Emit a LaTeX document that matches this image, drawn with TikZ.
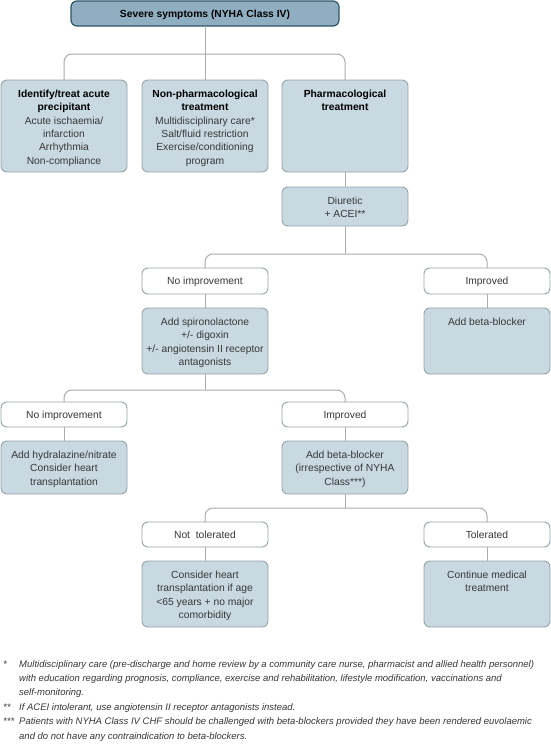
\documentclass[tikz,border=0pt]{standalone}
\usepackage{fontspec}
\setmainfont{Liberation Sans}
\usetikzlibrary{calc}
\definecolor{boxfill}{RGB}{200,217,225}
\definecolor{boxline}{RGB}{150,163,170}
\definecolor{topfill}{RGB}{143,175,192}
\definecolor{topline}{RGB}{45,85,102}
\definecolor{connline}{RGB}{172,172,172}
\definecolor{txt}{RGB}{55,55,55}
\newcommand{\bxt}[4][17.5pt]{\parbox[c][#3][t]{#2}{\centering\rule{0pt}{#1}#4}}
\tikzset{
  base/.style={inner sep=0pt, outer sep=0pt, anchor=north west, rounded corners=6pt, line width=0.9pt,
    font=\fontsize{10.3}{13.3}\selectfont, text=txt},
  fbox/.style={base, draw=boxline, fill=boxfill},
  lbox/.style={base, draw=boxline, fill=white},
  tbox/.style={base, draw=topline, fill=topfill, line width=1.2pt, text=black},
  conn/.style={draw=connline, line width=1pt, rounded corners=8pt},
  fnote/.style={inner sep=0pt, anchor=base west, text=txt, font=\fontsize{9.5}{14.4}\selectfont\itshape}
}
\begin{document}
\begin{tikzpicture}[x=1pt,y=-1pt]
\useasboundingbox (0,0) rectangle (551,750);
\fill[white] (0,0) rectangle (551,750);
% top
\node[tbox] (top) at (71,1) {\bxt[16.5pt]{268pt}{25pt}{\textbf{Severe symptoms (NYHA Class IV)}}};
% row 1
\node[fbox] (idt) at (1,80) {\bxt{126pt}{92pt}{\textcolor{black}{\textbf{Identify/treat acute\\precipitant}}\\Acute ischaemia/\\infarction\\Arrhythmia\\Non-compliance}};
\node[fbox] (npt) at (142,80) {\bxt{126pt}{92pt}{\textcolor{black}{\textbf{Non-pharmacological\\treatment}}\\Multidisciplinary care*\\Salt/fluid restriction\\Exercise/conditioning\\program}};
\node[fbox] (pht) at (282,80) {\bxt{126pt}{92pt}{\textcolor{black}{\textbf{Pharmacological\\treatment}}}};
% diuretic
\node[fbox] (diu) at (282,187) {\bxt{126pt}{39pt}{Diuretic\\+ ACEI**}};
% row labels 1
\node[lbox] (ni1) at (142,268) {\bxt[16.5pt]{126pt}{26pt}{No improvement}};
\node[lbox] (im1) at (424,268) {\bxt[16.5pt]{126pt}{26pt}{Improved}};
\node[fbox] (spi) at (142,308) {\bxt{126pt}{66pt}{Add spironolactone\\+/- digoxin\\+/- angiotensin II receptor\\antagonists}};
\node[fbox] (bb1) at (424,308) {\bxt{126pt}{66pt}{Add beta-blocker}};
% row labels 2
\node[lbox] (ni2) at (1,402) {\bxt[16pt]{126pt}{25pt}{No improvement}};
\node[lbox] (im2) at (282,402) {\bxt[16pt]{126pt}{25pt}{Improved}};
\node[fbox] (hyd) at (1,441) {\bxt{126pt}{53pt}{Add hydralazine/nitrate\\Consider heart\\transplantation}};
\node[fbox] (bb2) at (282,441) {\bxt{126pt}{53pt}{Add beta-blocker\\(irrespective of NYHA\\Class***)}};
% row labels 3
\node[lbox] (nt) at (142,522) {\bxt[16pt]{126pt}{25pt}{Not\ \ tolerated}};
\node[lbox] (tol) at (424,522) {\bxt[16pt]{126pt}{25pt}{Tolerated}};
\node[fbox] (hrt) at (142,561) {\bxt{126pt}{66pt}{Consider heart\\transplantation if age\\<65 years + no major\\comorbidity}};
\node[fbox] (cnt) at (424,561) {\bxt{126pt}{66pt}{Continue medical\\treatment}};
% connectors
\coordinate (j1) at (205,54);
\draw[conn] (top.south) -- (npt.north);
\draw[conn] (idt.north) |- (j1) -| (pht.north);
\draw[conn] (pht.south) -- (diu.north);
\coordinate (j2) at (345,254);
\draw[conn] (diu.south) -- (j2);
\draw[conn] (ni1.north) |- (j2) -| (im1.north);
\draw[conn] (ni1.south) -- (spi.north);
\draw[conn] (im1.south) -- (bb1.north);
\coordinate (j3) at (205,390);
\draw[conn] (spi.south) -- (j3);
\draw[conn] (ni2.north) |- (j3) -| (im2.north);
\draw[conn] (ni2.south) -- (hyd.north);
\draw[conn] (im2.south) -- (bb2.north);
\coordinate (j4) at (345,508);
\draw[conn] (bb2.south) -- (j4);
\draw[conn] (nt.north) |- (j4) -| (tol.north);
\draw[conn] (nt.south) -- (hrt.north);
\draw[conn] (tol.south) -- (cnt.north);
% footnotes
\node[fnote] (fn1) at (3,667) {\begin{tabular}[t]{@{}p{16pt}@{}l@{}}*&Multidisciplinary care (pre-discharge and home review by a community care nurse, pharmacist and allied health personnel)\\&with education regarding prognosis, compliance, exercise and rehabilitation, lifestyle modification, vaccinations and\\&self-monitoring.\end{tabular}};
\node[fnote] (fn2) at (3,710.2) {\begin{tabular}[t]{@{}p{16pt}@{}l@{}}**&If ACEI intolerant, use angiotensin II receptor antagonists instead.\end{tabular}};
\node[fnote] (fn3) at (3,724.6) {\begin{tabular}[t]{@{}p{16pt}@{}l@{}}***&Patients with NYHA Class IV CHF should be challenged with beta-blockers provided they have been rendered euvolaemic\\&and do not have any contraindication to beta-blockers.\end{tabular}};
\end{tikzpicture}
\end{document}
